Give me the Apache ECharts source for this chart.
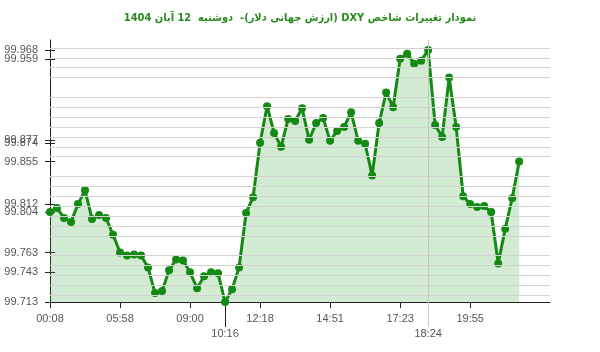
<!DOCTYPE html>
<html><head><meta charset="utf-8">
<script src="https://cdn.jsdelivr.net/npm/echarts@6/dist/echarts.min.js"></script>
<style>html,body{margin:0;padding:0;background:#fff}#c{width:600px;height:352px}</style>
</head><body><div id="c"></div>
<script>
const titleText = 'نمودار تغییرات شاخص DXY (ارزش جهانی دلار)-  دوشنبه  12 آبان 1404';
const values = [
 99.804, 99.808, 99.798, 99.794, 99.812, 99.826, 99.797, 99.801, 99.798, 99.781,
 99.763, 99.760, 99.761, 99.760, 99.748, 99.722, 99.724, 99.745, 99.756, 99.755,
 99.743, 99.727, 99.739, 99.743, 99.742, 99.713, 99.726, 99.748, 99.803, 99.819,
 99.874, 99.911, 99.884, 99.870, 99.898, 99.896, 99.909, 99.877, 99.894, 99.899,
 99.876, 99.886, 99.890, 99.905, 99.876, 99.873, 99.841, 99.894, 99.925, 99.910,
 99.959, 99.964, 99.954, 99.957, 99.968, 99.892, 99.880, 99.940, 99.890, 99.820,
 99.812, 99.809, 99.810, 99.804, 99.752, 99.787, 99.818, 99.855
];
const tickIdx = [0, 10, 20, 30, 40, 50, 60];
const tickLabels = ['00:08', '05:58', '09:00', '12:18', '14:51', '17:23', '19:55'];
const minIdx = 25, minLabel = '10:16';
const maxIdx = 54, maxLabel = '18:24';
const yLabels = [99.968, 99.959, 99.877, 99.874, 99.855, 99.812, 99.804, 99.763, 99.743, 99.713];

const yTop = Math.max.apply(null, yLabels);
const yRest = yLabels.filter(v => v !== yTop);

const chart = echarts.init(document.getElementById('c'), null, {renderer: 'canvas'});
const lblFont = {fontFamily: 'Liberation Sans', fontSize: 11, color: '#555', hideOverlap: false};
function xLabelMap(idxArr, labArr) { return v => { const i = idxArr.indexOf(Math.round(v)); return i >= 0 ? labArr[i] : ''; }; }
const commonX = {type: 'value', min: 0, max: 71.4, splitLine: {show: false}, gridIndex: 0};
chart.setOption({
  animation: false,
  title: {text: '\u202B' + titleText + '\u202C', left: 'center', top: 8,
    textStyle: {fontFamily: 'DejaVu Sans Condensed', fontSize: 11, fontWeight: 'bold', color: '#2a8a1e'}},
  grid: {left: 50, right: 50, top: 40, bottom: 50},
  xAxis: [
    Object.assign({}, commonX, {
      axisLine: {show: true, lineStyle: {color: '#222', width: 1}},
      axisTick: {show: true, length: 6, customValues: tickIdx, lineStyle: {color: '#222'}},
      axisLabel: Object.assign({customValues: tickIdx, margin: 11, formatter: xLabelMap(tickIdx, tickLabels)}, lblFont)
    }),
    Object.assign({}, commonX, {position: 'bottom',
      axisLine: {show: false},
      axisTick: {show: true, length: 25, customValues: [minIdx], lineStyle: {color: '#222'}},
      axisLabel: Object.assign({customValues: [minIdx], margin: 26, formatter: () => minLabel}, lblFont)
    }),
    Object.assign({}, commonX, {position: 'bottom',
      axisLine: {show: false},
      axisTick: {show: true, length: 25, customValues: [maxIdx], lineStyle: {color: '#c8c8c8'}},
      axisLabel: Object.assign({customValues: [maxIdx], margin: 26, formatter: () => maxLabel}, lblFont)
    })
  ],
  yAxis: [
    {type: 'value', min: 99.713, max: 99.978,
      axisLine: {show: true, lineStyle: {color: '#222'}},
      axisTick: {show: true, length: 5, customValues: yLabels, lineStyle: {color: '#222'}},
      axisLabel: Object.assign({customValues: yRest, margin: 12, showMaxLabel: true, showMinLabel: true,
        formatter: v => v.toFixed(3)}, lblFont),
      splitLine: {show: false}},
    {type: 'value', min: 99.713, max: 99.978, position: 'left',
      axisLine: {show: false},
      axisTick: {show: true, inside: true, length: 5, customValues: yLabels, lineStyle: {color: '#222'}},
      axisLabel: Object.assign({customValues: [yTop], inside: false, margin: 12, showMaxLabel: true,
        formatter: v => v.toFixed(3)}, lblFont),
      splitLine: {show: false}}
  ],
  series: [{
    type: 'line',
    xAxisIndex: 0, yAxisIndex: 0,
    data: values.map((v, i) => [i, v]),
    symbol: 'circle', symbolSize: 8,
    itemStyle: {color: '#148a14'},
    lineStyle: {color: '#148a14', width: 3},
    areaStyle: {color: 'rgba(40,150,40,0.29)'},
    z: 3,
    markLine: {
      silent: true, symbol: 'none', label: {show: false}, animation: false,
      lineStyle: {color: '#d2d2d2', type: 'solid', width: 1},
      data: values.map(v => ({yAxis: v})).concat([{xAxis: maxIdx, lineStyle: {color: '#bccbbc', width: 1, type: 'solid'}}])
    }
  }]
});
</script></body></html>
